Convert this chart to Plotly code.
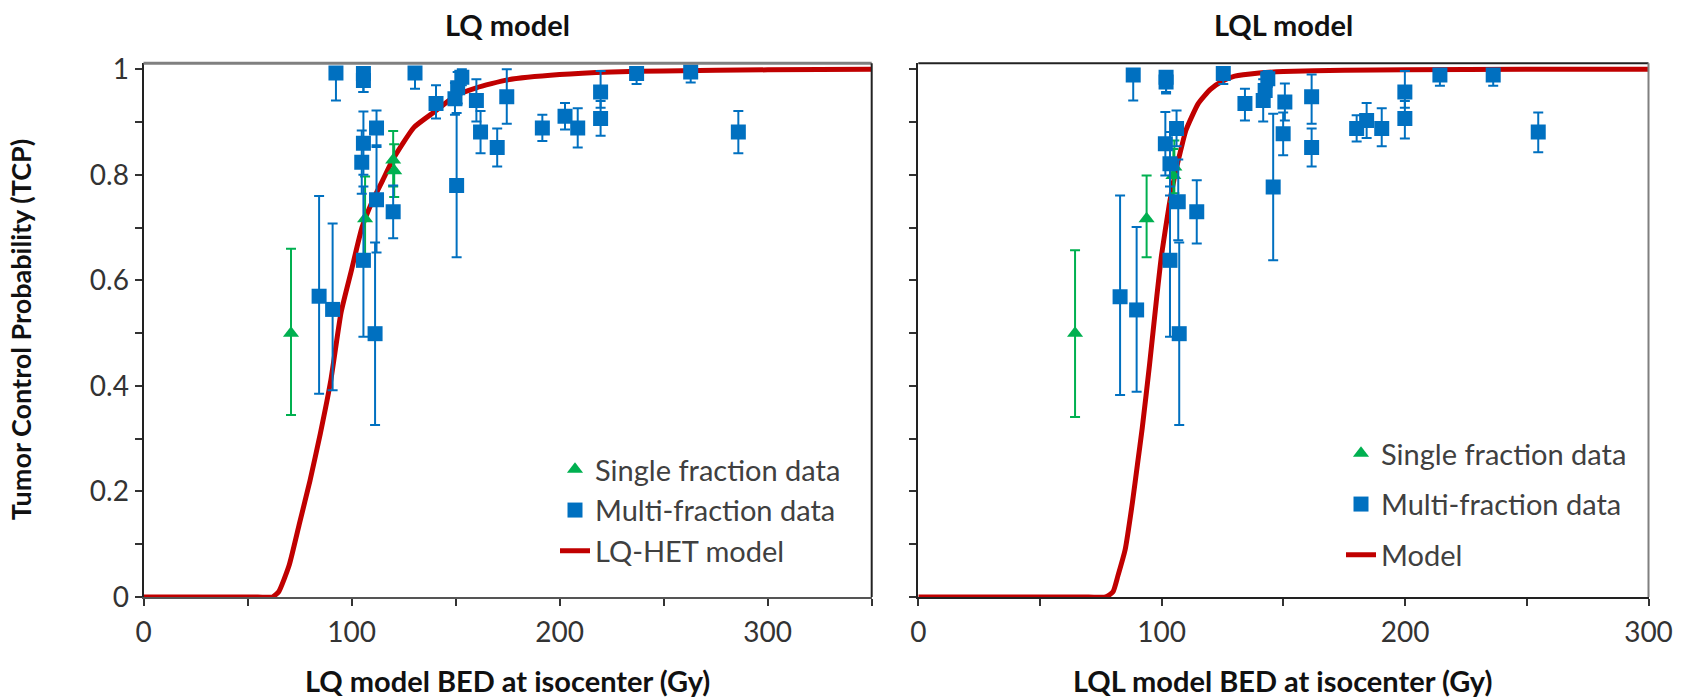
import plotly.graph_objects as go

# ---------------- LQ model panel (left) ----------------
lq_multi_x = [84.4, 90.9, 92.5, 104.9, 105.7, 105.7, 105.7, 105.7, 111.3, 112.0,
              112.0, 120.0, 130.5, 140.6, 149.7, 151.0, 153.0, 150.5, 160.0, 162.0,
              170.0, 174.6, 191.7, 202.6, 208.7, 219.7, 219.7, 237.0, 263.0, 285.9]
lq_multi_y = [0.570, 0.545, 0.993, 0.824, 0.860, 0.638, 0.992, 0.979, 0.499, 0.889,
              0.753, 0.730, 0.993, 0.935, 0.944, 0.965, 0.985, 0.780, 0.941, 0.881,
              0.852, 0.948, 0.889, 0.911, 0.889, 0.957, 0.907, 0.992, 0.995, 0.881]
lq_multi_err_up = [0.190, 0.163, 0.007, 0.060, 0.060, 0.140, 0.008, 0.020, 0.173, 0.033,
                   0.100, 0.050, 0.007, 0.035, 0.030, 0.030, 0.015, 0.137, 0.040, 0.040,
                   0.036, 0.052, 0.025, 0.025, 0.037, 0.040, 0.033, 0.008, 0.005, 0.040]
lq_multi_err_down = [0.185, 0.153, 0.052, 0.060, 0.060, 0.145, 0.035, 0.022, 0.173, 0.033,
                     0.100, 0.050, 0.030, 0.028, 0.030, 0.030, 0.015, 0.136, 0.040, 0.040,
                     0.036, 0.051, 0.025, 0.025, 0.037, 0.030, 0.033, 0.020, 0.020, 0.040]
lq_single_x = [70.9, 106.5, 120.0, 120.5]
lq_single_y = [0.500, 0.717, 0.828, 0.808]
lq_single_err_up = [0.160, 0.080, 0.055, 0.050]
lq_single_err_down = [0.155, 0.075, 0.050, 0.050]
lq_model_x = [0, 55, 62, 65, 70, 75, 80, 85, 90, 95, 100, 105, 110, 115, 120,
              130, 140, 150, 160, 175, 200, 225, 250, 300, 350]
lq_model_y = [0, 0, 0, 0.01, 0.06, 0.14, 0.22, 0.31, 0.41, 0.54, 0.62, 0.70, 0.75, 0.79, 0.83,
              0.89, 0.92, 0.95, 0.965, 0.98, 0.99, 0.995, 0.997, 0.999, 1.0]

# ---------------- LQL model panel (right) ----------------
lql_multi_x = [82.9, 89.7, 88.3, 103.4, 101.5, 103.4, 101.8, 101.8, 107.2, 106.1,
               106.8, 114.4, 125.3, 134.2, 141.7, 142.5, 143.6, 145.8, 150.6, 149.9,
               161.6, 161.6, 180.1, 184.2, 190.4, 199.9, 199.9, 214.3, 236.2, 254.7]
lql_multi_y = [0.569, 0.544, 0.989, 0.821, 0.859, 0.638, 0.985, 0.976, 0.499, 0.888,
               0.749, 0.730, 0.992, 0.935, 0.941, 0.960, 0.982, 0.777, 0.938, 0.878,
               0.852, 0.948, 0.888, 0.903, 0.888, 0.957, 0.907, 0.989, 0.989, 0.881]
lql_multi_err_up = [0.192, 0.157, 0.010, 0.060, 0.060, 0.140, 0.012, 0.020, 0.173, 0.034,
                    0.080, 0.060, 0.008, 0.028, 0.040, 0.030, 0.015, 0.139, 0.035, 0.040,
                    0.036, 0.042, 0.025, 0.033, 0.038, 0.040, 0.033, 0.010, 0.010, 0.037]
lql_multi_err_down = [0.186, 0.155, 0.048, 0.060, 0.060, 0.145, 0.028, 0.022, 0.173, 0.034,
                      0.073, 0.060, 0.020, 0.032, 0.040, 0.030, 0.015, 0.139, 0.035, 0.041,
                      0.036, 0.051, 0.025, 0.033, 0.034, 0.030, 0.038, 0.020, 0.020, 0.038]
lql_single_x = [64.4, 93.8, 104.8, 105.2]
lql_single_y = [0.500, 0.717, 0.799, 0.815]
lql_single_err_up = [0.157, 0.082, 0.050, 0.050]
lql_single_err_down = [0.159, 0.073, 0.050, 0.050]
lql_model_x = [0, 70, 77, 80, 82, 85, 88, 90, 92, 95, 98, 100, 103, 105, 108, 110,
               115, 120, 125, 130, 140, 150, 175, 200, 250, 300]
lql_model_y = [0, 0, 0, 0.01, 0.04, 0.09, 0.18, 0.25, 0.32, 0.44, 0.57, 0.65, 0.74, 0.79, 0.85, 0.885,
               0.935, 0.962, 0.978, 0.987, 0.993, 0.996, 0.998, 0.999, 1.0, 1.0]

# ---------------- text ----------------
panel_titles = ["LQ model", "LQL model"]
x_titles = ["LQ model BED at isocenter (Gy)", "LQL model BED at isocenter (Gy)"]
y_title = "Tumor Control Probability (TCP)"
legend_names_left = ["Single fraction data", "Multi-fraction data", "LQ-HET model"]
legend_names_right = ["Single fraction data", "Multi-fraction data", "Model"]
y_tickvals = [0, 0.2, 0.4, 0.6, 0.8, 1.0]
y_ticktext = ["0", "0.2", "0.4", "0.6", "0.8", "1"]
x_tickvals = [0, 100, 200, 300]

BLUE = "#0070C0"
GREEN = "#00B050"
RED = "#C00000"
FONT = "Lato, 'Open Sans', sans-serif"
W, H = 1694, 699

fig = go.Figure()

def add_panel(xa, ya, legend, grouped, mx, my, mup, mdn, sx, sy, sup, sdn, modx, mody, names):
    g = (lambda s: legend + s) if grouped else (lambda s: None)
    fig.add_trace(go.Scatter(
        x=modx, y=mody, mode="lines", name=names[2], xaxis=xa, yaxis=ya,
        line=dict(color=RED, width=5, shape="spline", smoothing=0.5),
        legend=legend, legendrank=3, legendgroup=g("c")))
    fig.add_trace(go.Scatter(
        x=sx, y=sy, mode="markers", name=names[0], xaxis=xa, yaxis=ya,
        marker=dict(symbol="triangle-up", size=14, color=GREEN),
        error_y=dict(type="data", symmetric=False, array=sup, arrayminus=sdn,
                     color=GREEN, thickness=2, width=5),
        legend=legend, legendrank=1, legendgroup=g("a")))
    fig.add_trace(go.Scatter(
        x=mx, y=my, mode="markers", name=names[1], xaxis=xa, yaxis=ya,
        marker=dict(symbol="square", size=15, color=BLUE),
        error_y=dict(type="data", symmetric=False, array=mup, arrayminus=mdn,
                     color=BLUE, thickness=2, width=5),
        legend=legend, legendrank=2, legendgroup=g("b")))

add_panel("x", "y", "legend", False, lq_multi_x, lq_multi_y, lq_multi_err_up, lq_multi_err_down,
          lq_single_x, lq_single_y, lq_single_err_up, lq_single_err_down,
          lq_model_x, lq_model_y, legend_names_left)
add_panel("x2", "y2", "legend2", True, lql_multi_x, lql_multi_y, lql_multi_err_up, lql_multi_err_down,
          lql_single_x, lql_single_y, lql_single_err_up, lql_single_err_down,
          lql_model_x, lql_model_y, legend_names_right)

dom_y = [1 - 597 / H, 1 - 63.3 / H]
dom_x1 = [143.5 / W, 871.7 / W]
dom_x2 = [918.3 / W, 1648.5 / W]

tickfont = dict(family=FONT, size=28, color="#333333")
titlefont = dict(family=FONT, size=29, color="#111111", weight="bold")

def xaxis(domain, rng, linecolor):
    return dict(domain=domain, range=rng, showgrid=False, zeroline=False, automargin=False,
                showline=True, linecolor=linecolor, linewidth=2,
                tickvals=x_tickvals, ticks="outside", ticklen=7, tickwidth=2,
                tickcolor="#333333", tickfont=tickfont, ticklabelstandoff=2,
                minor=dict(dtick=50, tick0=0, ticks="outside", ticklen=7,
                           tickwidth=2, tickcolor="#333333"))

def yaxis(domain, anchor, labels):
    return dict(domain=domain, range=[0, 1.0114], anchor=anchor, showgrid=False,
                zeroline=False, showline=True, linecolor="#222222", linewidth=2,
                automargin=False,
                tickvals=y_tickvals, ticktext=y_ticktext, ticks="outside", ticklen=7,
                tickwidth=2, tickcolor="#333333", tickfont=tickfont,
                showticklabels=labels,
                minor=dict(dtick=0.1, tick0=0, ticks="outside", ticklen=7,
                           tickwidth=2, tickcolor="#333333"))

annotations = [
    dict(text=panel_titles[0], x=(dom_x1[0] + dom_x1[1]) / 2, y=1 - 25 / H),
    dict(text=panel_titles[1], x=(dom_x2[0] + dom_x2[1]) / 2, y=1 - 25 / H),
    dict(text=x_titles[0], x=(dom_x1[0] + dom_x1[1]) / 2, y=1 - 680 / H),
    dict(text=x_titles[1], x=(dom_x2[0] + dom_x2[1]) / 2, y=1 - 680 / H),
    dict(text=y_title, x=20 / W, y=(dom_y[0] + dom_y[1]) / 2, textangle=-90,
         font=dict(family=FONT, size=27, color="#111111", weight="bold")),
]
for a in annotations:
    a.update(xref="paper", yref="paper", xanchor="center", yanchor="middle", showarrow=False)
    a.setdefault("font", titlefont)

fig.update_layout(
    template="none",
    width=W, height=H,
    margin=dict(l=0, r=0, t=0, b=0),
    paper_bgcolor="white", plot_bgcolor="white",
    font=dict(family=FONT),
    xaxis=xaxis(dom_x1, [0, 350], "#555555"),
    xaxis2=xaxis(dom_x2, [0, 300], "#222222"),
    yaxis=yaxis(dom_y, "x", True),
    yaxis2=yaxis(dom_y, "x2", False),
    legend=dict(x=555 / W, y=1 - 444 / H, xanchor="left", yanchor="top",
                bgcolor="rgba(0,0,0,0)", borderwidth=0,
                font=dict(family=FONT, size=29, color="#404040")),
    legend2=dict(x=1341 / W, y=1 - 428 / H, xanchor="left", yanchor="top",
                 bgcolor="rgba(0,0,0,0)", borderwidth=0, tracegroupgap=10,
                 font=dict(family=FONT, size=29, color="#404040")),
    shapes=[
        dict(type="line", xref="x domain", yref="y domain", x0=0, x1=1, y0=1, y1=1,
             line=dict(color="#808080", width=3)),
        dict(type="line", xref="x domain", yref="y domain", x0=1, x1=1, y0=0, y1=1,
             line=dict(color="#222222", width=2)),
        dict(type="line", xref="x2 domain", yref="y2 domain", x0=0, x1=1, y0=1, y1=1,
             line=dict(color="#222222", width=2)),
        dict(type="line", xref="x2 domain", yref="y2 domain", x0=1, x1=1, y0=0, y1=1,
             line=dict(color="#808080", width=2)),
    ],
    annotations=annotations,
)

fig.write_html(
    "out.html",
    config={"displayModeBar": False},
    post_script="document.body.style.margin='0';document.body.style.overflow='hidden';",
)
